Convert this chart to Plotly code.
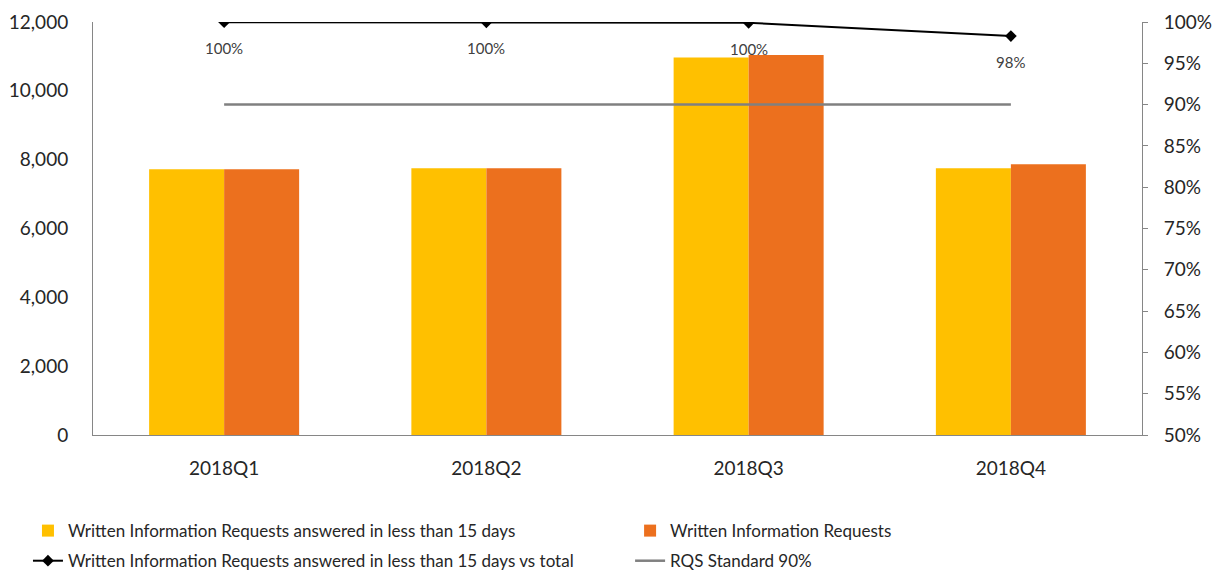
import plotly.graph_objects as go

quarters = ["2018Q1", "2018Q2", "2018Q3", "2018Q4"]
answered_15 = [7720, 7750, 10970, 7750]
total_requests = [7720, 7750, 11040, 7870]
pct_answered = [0.9998, 0.9996, 0.999, 0.983]
rqs_standard = [0.90, 0.90, 0.90, 0.90]

FONT = "Lato"
GRAY = "#868686"
TXT = "#262626"

fig = go.Figure()
fig.add_trace(go.Bar(
    x=quarters, y=answered_15, name="Written Information Requests answered in less than 15 days",
    marker=dict(color="#FFC000", line=dict(width=0)), legend="legend", legendgroup="a", yaxis="y"))
fig.add_trace(go.Bar(
    x=quarters, y=total_requests, name="Written Information Requests",
    marker=dict(color="#EC701E", line=dict(width=0)), legend="legend2", legendgroup="c", yaxis="y"))
fig.add_trace(go.Scatter(
    x=quarters, y=pct_answered, name="Written Information Requests answered in less than 15 days vs total",
    mode="lines+markers", line=dict(color="black", width=2),
    marker=dict(symbol="diamond", size=9, color="black"),
    legend="legend", legendgroup="b", yaxis="y2"))
fig.add_trace(go.Scatter(
    x=quarters, y=rqs_standard, name="RQS Standard 90%",
    mode="lines", line=dict(color="#808080", width=2.5),
    legend="legend2", legendgroup="d", yaxis="y2"))

for q, v in zip(quarters, pct_answered):
    fig.add_annotation(x=q, y=v, yref="y2", text=f"{v*100:.0f}%", showarrow=False,
                       yshift=-26, font=dict(family=FONT, size=15, color="#404040"))

legend_common = dict(orientation="v", font=dict(family=FONT, size=17, color=TXT),
                     bgcolor="rgba(0,0,0,0)", tracegroupgap=5, itemwidth=30,
                     yanchor="top", xanchor="left")

fig.update_layout(
    width=1223, height=572,
    margin=dict(l=85, r=89, t=14, b=145, autoexpand=False),
    paper_bgcolor="white", plot_bgcolor="white",
    barmode="group", bargap=0.428, bargroupgap=0,
    font=dict(family=FONT, size=19, color=TXT),
    xaxis=dict(showline=True, linecolor=GRAY, linewidth=1, ticks="", showgrid=False,
               tickfont=dict(size=19), ticklabelstandoff=16, tickangle=0),
    yaxis=dict(range=[0, 12000], dtick=2000, tickformat=",", showline=True, linecolor=GRAY,
               linewidth=1, showgrid=False, zeroline=False, ticks="", tickfont=dict(size=19),
               ticklabelstandoff=20),
    yaxis2=dict(range=[0.5, 1.0], dtick=0.05, tickformat=".0%", overlaying="y", side="right",
                showline=True, linecolor=GRAY, linewidth=1, showgrid=False, zeroline=False,
                ticks="outside", ticklen=5, tickcolor=GRAY, tickfont=dict(size=19),
                ticklabelstandoff=12),
    legend=dict(x=-0.062, y=-0.189, **legend_common),
    legend2=dict(x=0.512, y=-0.189, **legend_common),
    showlegend=True,
)

fig.write_html("out.html")
